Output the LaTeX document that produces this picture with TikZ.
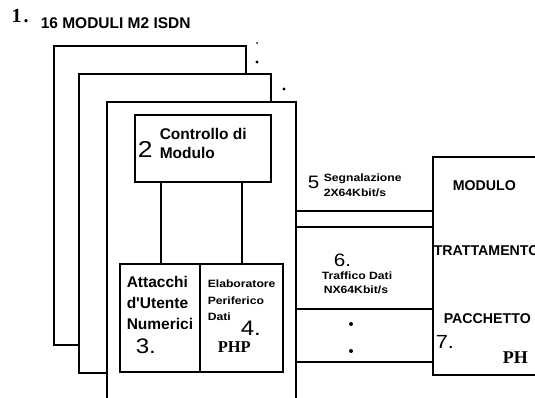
\documentclass[tikz,border=0pt]{standalone}
\usepackage{fontspec}
\newfontfamily\plotfont{Liberation Sans}
\newfontfamily\widefont[FakeStretch=1.15]{Liberation Sans}
\newfontfamily\serfont{Liberation Serif}
\begin{document}
\begin{tikzpicture}[x=1pt,y=-1pt,line width=1.5pt,
  modbox/.style={draw,fill=white,inner sep=0pt,anchor=north west},
  txt/.style={anchor=base west,inner sep=0pt},
  big/.style={txt,font=\plotfont\bfseries\fontsize{15.5}{18}\selectfont},
  small/.style={txt,font=\widefont\bfseries\fontsize{10.6}{13}\selectfont},
  caps/.style={txt,font=\plotfont\bfseries\fontsize{14.2}{17}\selectfont},
  num/.style={txt,font=\widefont\fontsize{#1}{#1}\selectfont},
  ser/.style={txt,font=\serfont\bfseries\fontsize{#1}{#1}\selectfont}]
  \useasboundingbox (0,0) rectangle (535,397);

  % the stacked modules
  \node[modbox,minimum width=192pt,minimum height=299pt] (mod1) at (53,45) {};
  \node[modbox,minimum width=192pt,minimum height=299pt] (mod2) at (78,73) {};
  \node[modbox,minimum width=189pt,minimum height=312pt] (mod3) at (106,101) {};
  \foreach \p in {(257,62),(284,89)}{\fill \p circle (1.7pt);}
  \fill (257,43) circle (1pt);

  % blocks inside the module
  \node[modbox,minimum width=136pt,minimum height=67pt] (ctrl) at (134,114) {};
  \node[modbox,minimum width=80pt,minimum height=108pt] (att) at (119,263) {};
  \node[modbox,minimum width=83pt,minimum height=108pt] (elab) at (199,263) {};
  \foreach \x in {161,242}{\draw (ctrl.south -| \x,0) -- (att.north -| \x,0);}

  % packet handler and the channels
  \node[modbox,minimum width=130pt,minimum height=218pt] (ph) at (432,156) {};
  \foreach \y in {211,227,309,362}{\draw[line width=1.3pt] (mod3.east |- 0,\y) -- (ph.west |- 0,\y);}
  \foreach \p in {(351,324),(351,351)}{\fill \p circle (2pt);}

  % labels
  \node[ser=20] (n1) at (11,22) {1\hspace{2pt}.};
  \node[txt,font=\plotfont\bfseries\fontsize{15.5}{18}\selectfont] (ttl) at (40,28) {16 MODULI M2 ISDN};
  \node[num=23] (n2) at (137,157) {2};
  \node[big] (ctrl1) at (159,139) {Controllo di};
  \node[big] (ctrl2) at (159,158) {Modulo};
  \node[big] (att1) at (126,287) {Attacchi};
  \node[big] (att2) at (126,308) {d'Utente};
  \node[big] (att3) at (126,329) {Numerici};
  \node[num=21] (n3) at (135,353) {3.};
  \node[small] (elab1) at (207,287) {Elaboratore};
  \node[small] (elab2) at (207,304) {Periferico};
  \node[small] (elab3) at (207,320) {Dati};
  \node[num=21] (n4) at (240,335) {4.};
  \node[ser=16.5] (php) at (217,352) {PHP};
  \node[num=18] (n5) at (307,188) {5};
  \node[small,anchor=north west,align=left,font=\widefont\bfseries\fontsize{10.6}{15}\selectfont]
    (sig) at (323,173.3) {Segnalazione\\2X64Kbit/s};
  \node[num=18] (n6) at (333,266) {6.};
  \node[small] (dat1) at (321,279) {Traffico Dati};
  \node[small] (dat2) at (323,293) {NX64Kbit/s};
  \node[caps] (ph1) at (452,190) {MODULO};
  \node[caps] (ph2) at (433,255) {TRATTAMENTO};
  \node[caps] (ph3) at (443,323) {PACCHETTO};
  \node[num=19] (n7) at (435,348) {7.};
  \node[ser=18] (ph4) at (502,363) {PH};
\end{tikzpicture}
\end{document}
